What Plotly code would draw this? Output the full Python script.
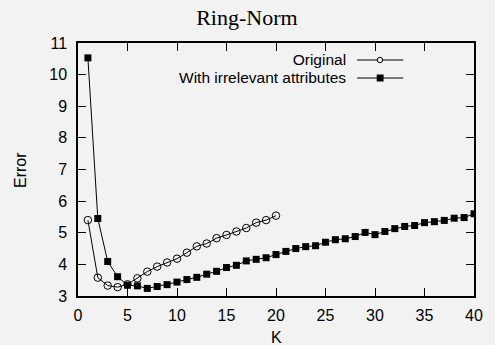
import plotly.graph_objects as go

k_orig = list(range(1, 21))
err_orig = [5.40, 3.58, 3.33, 3.28, 3.37, 3.56, 3.77, 3.93, 4.06, 4.18,
            4.37, 4.57, 4.66, 4.83, 4.93, 5.04, 5.15, 5.32, 5.40, 5.54]
k_irr = list(range(1, 41))
err_irr = [10.53, 5.45, 4.09, 3.61, 3.34, 3.32, 3.24, 3.30, 3.36, 3.44,
           3.52, 3.59, 3.69, 3.78, 3.90, 3.97, 4.11, 4.16, 4.21, 4.31,
           4.41, 4.50, 4.56, 4.59, 4.70, 4.78, 4.81, 4.88, 5.01, 4.94,
           5.04, 5.13, 5.20, 5.23, 5.32, 5.35, 5.39, 5.46, 5.48, 5.60]
legend_labels = ["Original", "With irrelevant attributes"]

BG = "#f2f2f2"
SANS = "Liberation Sans"
fig = go.Figure()
fig.add_trace(go.Scatter(x=k_orig, y=err_orig, mode="lines+markers",
                         line=dict(color="black", width=1),
                         marker=dict(symbol="circle-open", size=7.5, color="black", line=dict(width=1)),
                         showlegend=False))
fig.add_trace(go.Scatter(x=k_irr, y=err_irr, mode="lines+markers",
                         line=dict(color="black", width=1),
                         marker=dict(symbol="square", size=7, color="black"),
                         showlegend=False))

W, H = 495, 345
L, R, T, B = 78, 14, 43, 49
pw, ph = W - L - R, H - T - B
def px(x): return (x - L) / pw
def py(y): return 1 - (y - T) / ph

legend_y = [60.0, 78.0]
legend_text = "<br>".join(f'<span style="font-size:15.5px">{lab}</span>' for lab in legend_labels)
fig.add_annotation(x=px(352), y=py(sum(legend_y) / 2), xref="paper", yref="paper", text=legend_text,
                   showarrow=False, xanchor="right", yanchor="middle", align="right", borderpad=0,
                   font=dict(family=SANS, size=18 / 1.3, color="black"))
for yy in legend_y:
    fig.add_shape(type="line", xref="paper", yref="paper", x0=px(362), x1=px(409),
                  y0=py(yy), y1=py(yy), line=dict(color="black", width=1))
cy, sy = legend_y
fig.add_shape(type="circle", xref="paper", yref="paper", x0=px(382.5), x1=px(388),
              y0=py(cy + 2.75), y1=py(cy - 2.75), line=dict(color="black", width=1), fillcolor=BG)
fig.add_shape(type="rect", xref="paper", yref="paper", x0=px(382), x1=px(389),
              y0=py(sy + 3.5), y1=py(sy - 3.5), line=dict(color="black", width=0), fillcolor="black")

# axis titles
fig.add_annotation(x=px(280), y=py(337), xref="paper", yref="paper", text="K", showarrow=False,
                   xanchor="center", yanchor="middle", font=dict(family=SANS, size=16, color="black"))
fig.add_annotation(x=px(19), y=py(170), xref="paper", yref="paper", text="Error", showarrow=False,
                   textangle=-90, xanchor="center", yanchor="middle",
                   font=dict(family=SANS, size=16, color="black"))

axis_common = dict(showgrid=False, zeroline=False, showline=True, linecolor="black", linewidth=1.5,
                   mirror="ticks", ticks="inside", ticklen=8, tickcolor="black", tickwidth=1,
                   tickfont=dict(family=SANS, size=16, color="black"))
fig.update_xaxes(range=[0, 40], dtick=5, ticklabelstandoff=4, **axis_common)
fig.update_yaxes(range=[3, 11], dtick=1, ticklabelstandoff=6, **axis_common)
fig.update_layout(width=W, height=H, margin=dict(l=L, r=R, t=T, b=B),
                  paper_bgcolor=BG, plot_bgcolor=BG,
                  title=dict(text="Ring-Norm", x=px(279), xanchor="center", y=1 - 17 / H, yanchor="middle",
                             font=dict(family="Liberation Serif", size=22, color="black")))
fig.write_html("out.html")
